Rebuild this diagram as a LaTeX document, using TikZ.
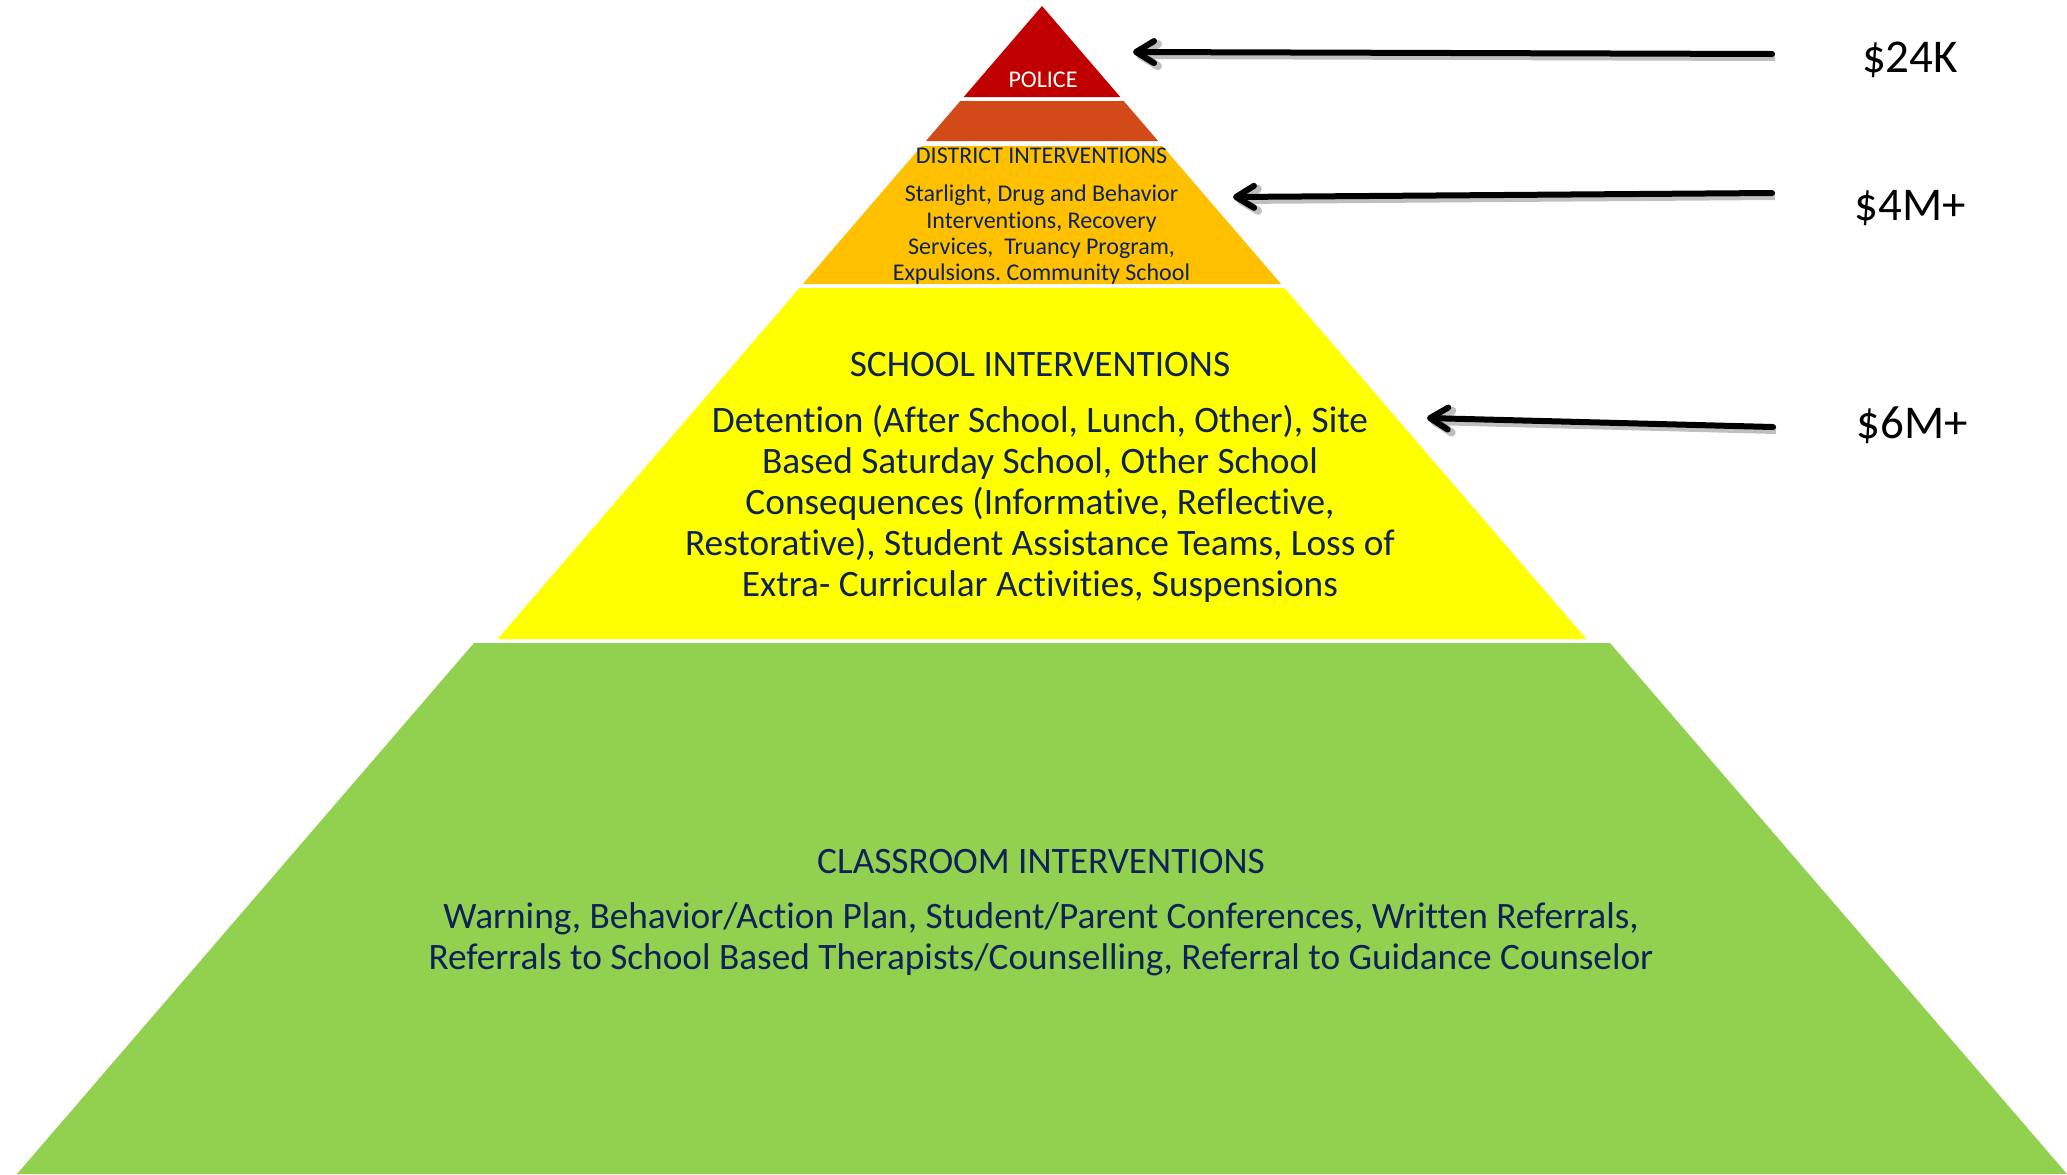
\documentclass[tikz,border=0pt]{standalone}
\usepackage{fontspec}
\setmainfont{Carlito}[Ligatures=CommonOff]
\frenchspacing
\usetikzlibrary{arrows.meta}
\definecolor{policered}{HTML}{C00000}
\definecolor{bandorange}{HTML}{D34A19}
\definecolor{bandgold}{HTML}{FFC000}
\definecolor{bandyellow}{HTML}{FFFF00}
\definecolor{bandgreen}{HTML}{92D050}
\definecolor{navytext}{HTML}{0E2257}
\begin{document}
\begin{tikzpicture}[x=0.5pt,y=-0.5pt,
  smalltext/.style={font=\fontsize{12}{13.15}\selectfont, text=navytext, inner sep=0pt, align=center},
  bigtext/.style={font=\fontsize{18.65}{20.5}\selectfont, text=navytext, inner sep=0pt, align=center},
  costlabel/.style={font=\fontsize{23.5}{28}\selectfont, text=black, inner sep=0pt, anchor=base},
  costarrow/.style={line width=3pt, line cap=round, -{Straight Barb[length=9pt,width=11pt,round]},
    preaction={draw=black, opacity=0.25, line width=4pt, transform canvas={shift={(1.5pt,-1.5pt)}}}}
]
\useasboundingbox (0,0) rectangle (2067,1174);
\fill[white] (0,0) rectangle (2067,1174);
% bands
\fill[bandgreen] (474,643) -- (1610,643) -- (2067,1174) -- (17,1174) -- cycle;
\fill[bandyellow] (799.5,288) -- (1284.5,288) -- (1586.4,639) -- (497.6,639) -- cycle;
\fill[bandgold] (921.6,146) -- (1162.4,146) -- (1281.1,284) -- (802.9,284) -- cycle;
\fill[bandorange] (960.3,101) -- (1123.7,101) -- (1158.1,141) -- (925.9,141) -- cycle;
\fill[policered] (1042,6) -- (1120.3,97) -- (963.7,97) -- cycle;
% texts
\node[smalltext, text=white, anchor=base] (police) at (1043,87) {POLICE};
\node[smalltext, anchor=base] (disthead) at (1041.5,163) {DISTRICT INTERVENTIONS};
\node[smalltext] (distbody) at (1041.5,235) {Starlight, Drug and Behavior\\Interventions, Recovery\\Services,\ \ Truancy Program,\\Expulsions. Community School};
\node[bigtext, anchor=base] (schoolhead) at (1040,376) {SCHOOL INTERVENTIONS};
\node[bigtext] (schoolbody) at (1040,503.5) {Detention (After School, Lunch, Other), Site\\Based Saturday School, Other School\\Consequences (Informative, Reflective,\\Restorative), Student Assistance Teams, Loss of\\Extra- Curricular Activities, Suspensions};
\node[bigtext, anchor=base] (classhead) at (1041,873) {CLASSROOM INTERVENTIONS};
\node[bigtext] (classbody) at (1041,939) {Warning, Behavior/Action Plan, Student/Parent Conferences, Written Referrals,\\Referrals to School Based Therapists/Counselling, Referral to Guidance Counselor};
% cost labels
\node[costlabel] (c24) at (1910,72) {\$24K};
\node[costlabel] (c4) at (1910,220) {\$4M+};
\node[costlabel] (c6) at (1912,438) {\$6M+};
% arrows
\coordinate (t24) at (1772,54);
\coordinate (h24) at (1133,52);
\coordinate (t4) at (1772,193);
\coordinate (h4) at (1233,197);
\coordinate (t6) at (1773,427);
\coordinate (h6) at (1427,418);
\draw[costarrow] (t24) -- (h24);
\draw[costarrow] (t4) -- (h4);
\draw[costarrow] (t6) -- (h6);
\end{tikzpicture}
\end{document}
